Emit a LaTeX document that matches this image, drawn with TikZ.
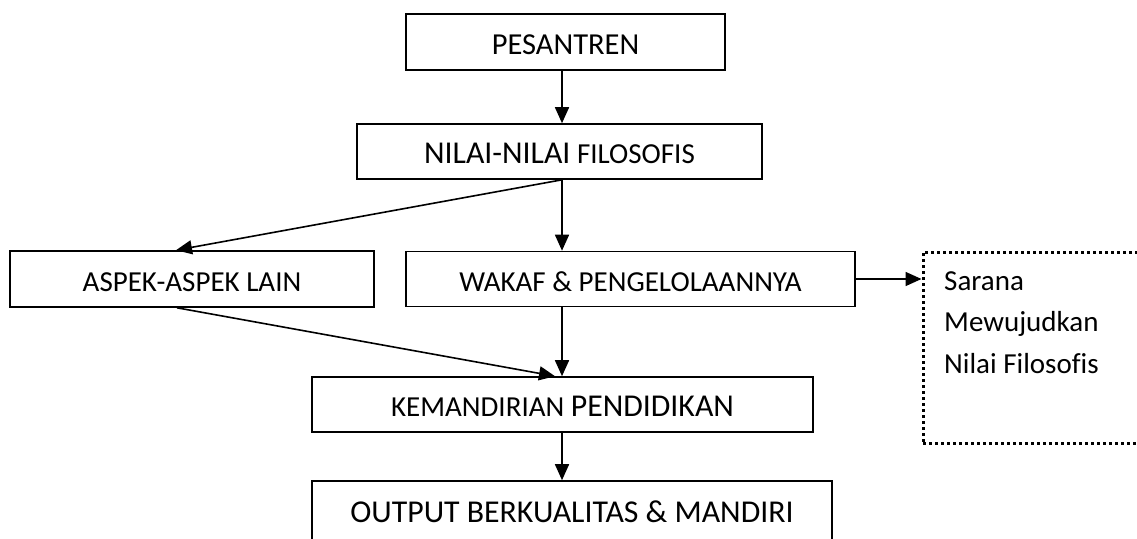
\documentclass[tikz,border=0pt]{standalone}
\usepackage{fontspec}
\setmainfont{Carlito}[Ligatures=NoCommon]
\usetikzlibrary{arrows.meta}
\newcommand\nrmsize{\fontsize{29}{35}\selectfont}
\newcommand\bigsize{\fontsize{31.8}{38}\selectfont}
\begin{document}
\begin{tikzpicture}[x=1pt,y=-1pt,
  box/.style={draw, line width=1.6pt, rectangle, inner sep=0pt,
    text height=24pt, text depth=0pt, font=\nrmsize},
  arr/.style={line width=1.6pt, -{Triangle[length=16pt,width=14pt]}},
  dotbox/.style={draw, line width=3pt, dash pattern=on 3pt off 3pt, rectangle, inner sep=0pt}
]
\useasboundingbox[fill=white] (0,0) rectangle (1137,538);
\clip (0,0) rectangle (1137,538);

\node[box, minimum width=319pt, minimum height=56pt, font=\fontsize{30.5}{36}\selectfont] (pes) at (565.5,42) {PESANTREN};
\node[box, minimum width=405pt, minimum height=55pt] (nil) at (559.5,151.5) {{\bigsize NILAI-NILAI} FILOSOFIS};
\node[box, minimum width=364pt, minimum height=56pt] (asp) at (192,279) {ASPEK-ASPEK LAIN};
\node[box, minimum width=449pt, minimum height=55pt] (wak) at (630.5,279) {WAKAF \& PENGELOLAANNYA};
\node[box, minimum width=501pt, minimum height=55pt] (kem) at (562.5,404.5) {KEMANDIRIAN {\bigsize PENDIDIKAN}};
\node[box, minimum width=520pt, minimum height=80pt, text depth=22pt, font=\bigsize] (out) at (572,521) {OUTPUT BERKUALITAS \& MANDIRI};
\node[dotbox, minimum width=237pt, minimum height=191pt] (sarbox) at (1041.5,347.5) {};
\node[inner sep=0pt, anchor=north west, align=left, font=\fontsize{29}{41.5}\selectfont] (sartext) at (944,271) {Sarana\\Mewujudkan\\Nilai Filosofis};

\coordinate (ax) at (562,0);
\coordinate (axb) at (555,0);
\draw[arr] (pes.south -| ax) -- (nil.north -| ax);
\draw[arr] (nil.south -| ax) -- ([xshift=-16pt]asp.north);
\draw[arr] (nil.south -| ax) -- (wak.north -| ax);
\draw[arr] ([xshift=-15pt]asp.south) -- (kem.north -| axb);
\draw[arr] (wak.south -| ax) -- (kem.north -| ax);
\draw[arr] (kem.south -| ax) -- (out.north -| ax);
\draw[arr] (wak.east) -- (sarbox.west |- wak.east);
\end{tikzpicture}
\end{document}
